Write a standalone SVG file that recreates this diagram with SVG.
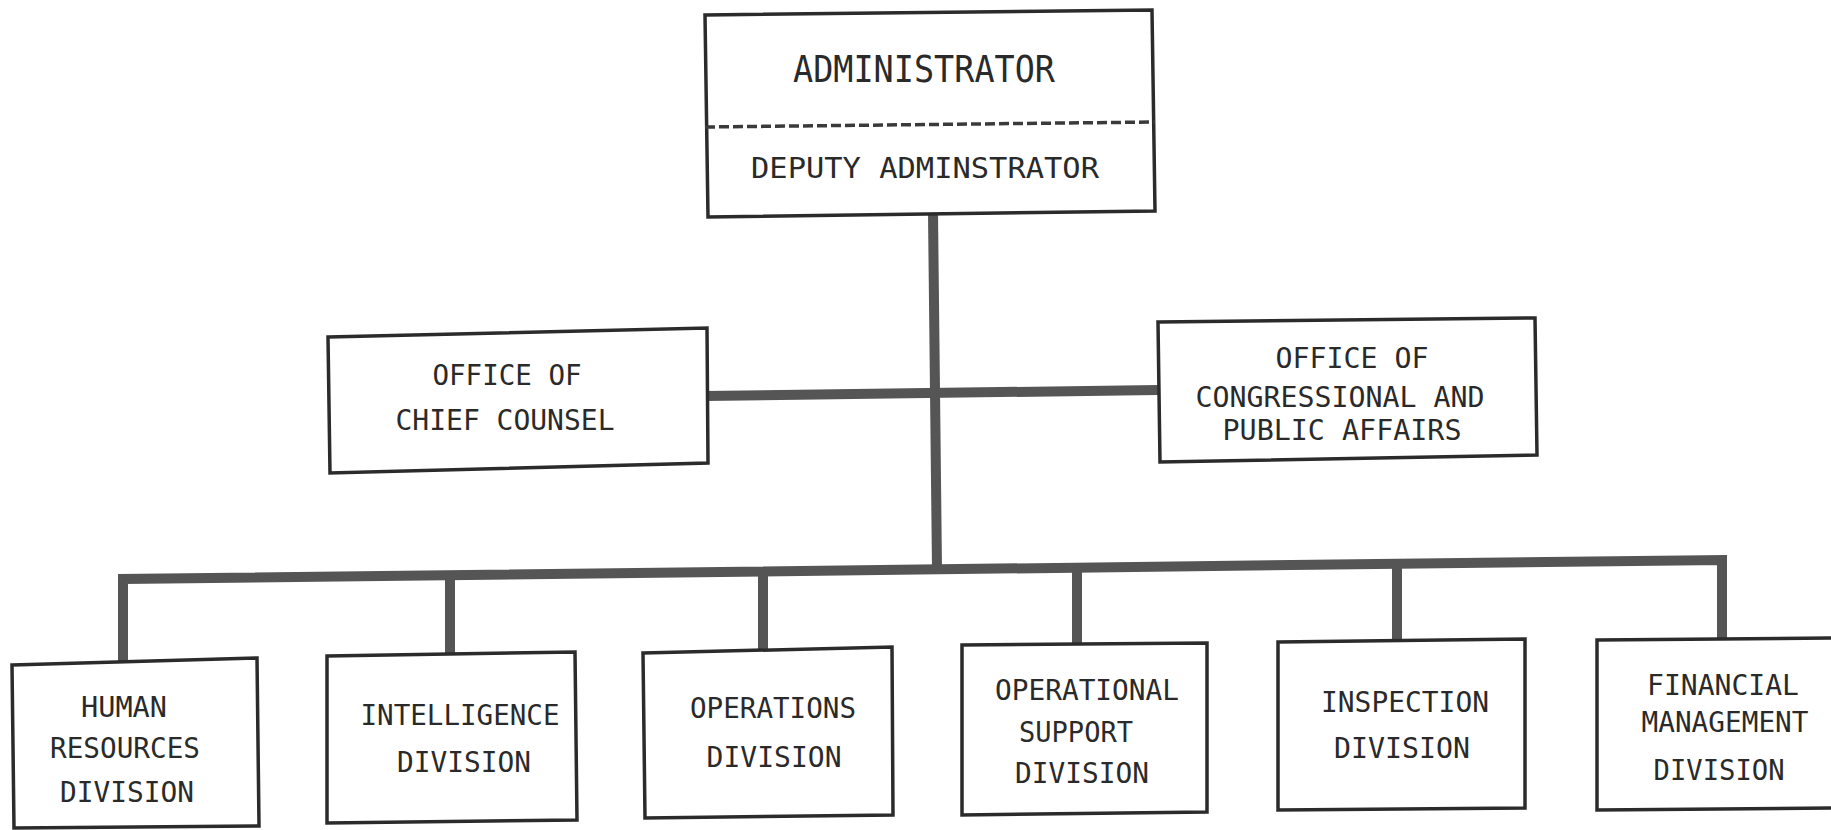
<svg xmlns="http://www.w3.org/2000/svg" width="1831" height="830" viewBox="0 0 1831 830">
<style>
.box{fill:#fff;stroke:#2b2b2b;stroke-width:3.5;stroke-linejoin:miter}
.conn{fill:none;stroke:#555;stroke-width:10;stroke-linejoin:miter;stroke-linecap:butt}
text{font-family:"DejaVu Sans Mono","Liberation Mono",monospace;fill:#2a2a2a;text-anchor:middle}
.t{font-size:29px}
.s{font-size:28px}
</style>
<rect width="1831" height="830" fill="#fff"/>
<g id="connectors">
<path class="conn" d="M933,213 L937,569"/>
<path class="conn" d="M705,396 L1158,390"/>
<path class="conn" d="M123,662 L123,579 L1722,560 L1722,639"/>
<path class="conn" d="M450,575 L450,655"/>
<path class="conn" d="M763,572 L763,650"/>
<path class="conn" d="M1077,566 L1077,645"/>
<path class="conn" d="M1397,562 L1397,641"/>
</g>
<g id="administrator">
<polygon class="box" points="705,15 1152,10 1155,211 708,217"/>
<line x1="705" y1="127" x2="1155" y2="122" stroke="#3a3a3a" stroke-width="3.5" stroke-dasharray="10,4"/>
<text x="924" y="82" style="font-size:37px" textLength="262" lengthAdjust="spacingAndGlyphs">ADMINISTRATOR</text>
<text x="925" y="178" class="t" textLength="348" lengthAdjust="spacingAndGlyphs">DEPUTY ADMINSTRATOR</text>
</g>
<g id="chief-counsel">
<polygon class="box" points="328,337 707,328 708,463 330,473"/>
<text x="507" y="385" class="t" textLength="149" lengthAdjust="spacingAndGlyphs">OFFICE OF</text>
<text x="505" y="430" class="t" textLength="219" lengthAdjust="spacingAndGlyphs">CHIEF COUNSEL</text>
</g>
<g id="congressional">
<polygon class="box" points="1158,322 1535,318 1537,455 1160,462"/>
<text x="1352" y="368" class="s" textLength="153" lengthAdjust="spacingAndGlyphs">OFFICE OF</text>
<text x="1340" y="407" class="s" textLength="289" lengthAdjust="spacingAndGlyphs">CONGRESSIONAL AND</text>
<text x="1342" y="440" class="s" textLength="239" lengthAdjust="spacingAndGlyphs">PUBLIC AFFAIRS</text>
</g>
<g id="human-resources">
<polygon class="box" points="12,665 257,658 259,826 14,828"/>
<text x="124" y="717" class="s" textLength="86" lengthAdjust="spacingAndGlyphs">HUMAN</text>
<text x="125" y="758" class="s" textLength="150" lengthAdjust="spacingAndGlyphs">RESOURCES</text>
<text x="127" y="802" class="s" textLength="134" lengthAdjust="spacingAndGlyphs">DIVISION</text>
</g>
<g id="intelligence">
<polygon class="box" points="327,656 575,652 577,820 327,823"/>
<text x="460" y="725" class="s" textLength="199" lengthAdjust="spacingAndGlyphs">INTELLIGENCE</text>
<text x="464" y="772" class="s" textLength="134" lengthAdjust="spacingAndGlyphs">DIVISION</text>
</g>
<g id="operations">
<polygon class="box" points="643,653 892,647 893,815 645,818"/>
<text x="773" y="718" class="s" textLength="166" lengthAdjust="spacingAndGlyphs">OPERATIONS</text>
<text x="774" y="767" class="s" textLength="135" lengthAdjust="spacingAndGlyphs">DIVISION</text>
</g>
<g id="operational-support">
<polygon class="box" points="962,645 1207,643 1207,812 962,815"/>
<text x="1087" y="700" class="s" textLength="184" lengthAdjust="spacingAndGlyphs">OPERATIONAL</text>
<text x="1076" y="742" class="s" textLength="114" lengthAdjust="spacingAndGlyphs">SUPPORT</text>
<text x="1082" y="783" class="s" textLength="134" lengthAdjust="spacingAndGlyphs">DIVISION</text>
</g>
<g id="inspection">
<polygon class="box" points="1278,642 1525,639 1525,808 1278,810"/>
<text x="1405" y="712" class="s" textLength="168" lengthAdjust="spacingAndGlyphs">INSPECTION</text>
<text x="1402" y="758" class="s" textLength="136" lengthAdjust="spacingAndGlyphs">DIVISION</text>
</g>
<g id="financial-management">
<polygon class="box" points="1597,640 1833,638 1833,808 1597,810"/>
<text x="1723" y="695" class="s" textLength="152" lengthAdjust="spacingAndGlyphs">FINANCIAL</text>
<text x="1725" y="732" class="s" textLength="167" lengthAdjust="spacingAndGlyphs">MANAGEMENT</text>
<text x="1719" y="780" class="s" textLength="131" lengthAdjust="spacingAndGlyphs">DIVISION</text>
</g>
</svg>
